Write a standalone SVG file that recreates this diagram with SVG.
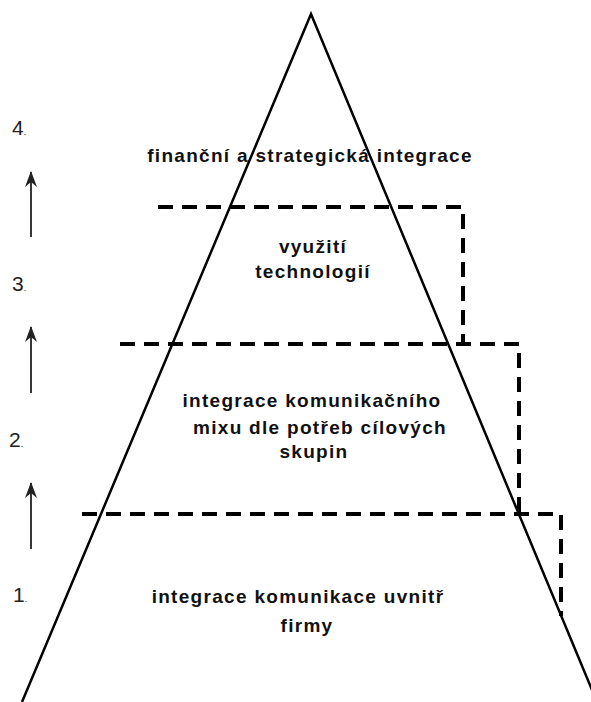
<svg xmlns="http://www.w3.org/2000/svg" width="591" height="702" viewBox="0 0 591 702">
<style>
.lbl{font-family:"Liberation Sans",Arial,sans-serif;font-weight:bold;font-size:19px;letter-spacing:1.3px;fill:#111;text-anchor:middle}
.num{font-family:"Liberation Sans",Arial,sans-serif;font-size:21px;fill:#222}
.dash{fill:none;stroke:#000;stroke-width:4;stroke-dasharray:15 9}
.arr{stroke:#222;stroke-width:1.8;fill:none}
</style>
<defs>
<marker id="ah" viewBox="0 0 16 12" refX="15" refY="6" markerWidth="16" markerHeight="12" orient="auto" markerUnits="userSpaceOnUse">
<path d="M0,0 L16,6 L0,12 L5,6 Z" fill="#222"/>
</marker>
</defs>
<rect width="591" height="702" fill="#fff"/>
<g id="connectors">
<path class="dash" d="M158 207 H463 V343"/>
<path class="dash" d="M120 344 H519 V514"/>
<path class="dash" d="M82 514 H561 V616"/>
<line class="arr" x1="31" y1="237" x2="31" y2="172" marker-end="url(#ah)"/>
<line class="arr" x1="31" y1="393" x2="31" y2="327" marker-end="url(#ah)"/>
<line class="arr" x1="31" y1="549" x2="31" y2="483" marker-end="url(#ah)"/>
</g>
<g id="pyramid">
<polyline points="22,702 311,14 597,702" fill="none" stroke="#000" stroke-width="2.5" stroke-linejoin="miter"/>
</g>
<g id="level4">
<text class="lbl" x="310" y="162">finanční a strategická integrace</text>
</g>
<g id="level3">
<text class="lbl" x="313" y="253">využití</text>
<text class="lbl" x="313" y="278">technologií</text>
</g>
<g id="level2">
<text class="lbl" x="312" y="407">integrace komunikačního</text>
<text class="lbl" x="320" y="434">mixu dle potřeb cílových</text>
<text class="lbl" x="314" y="458">skupin</text>
</g>
<g id="level1">
<text class="lbl" x="298" y="603">integrace komunikace uvnitř</text>
<text class="lbl" x="307" y="632">firmy</text>
</g>
<g id="numbers">
<text class="num" x="12" y="135">4<tspan font-size="9">.</tspan></text>
<text class="num" x="12" y="291">3<tspan font-size="9">.</tspan></text>
<text class="num" x="9" y="447">2<tspan font-size="9">.</tspan></text>
<text class="num" x="13" y="602">1<tspan font-size="9">.</tspan></text>
</g>
</svg>
